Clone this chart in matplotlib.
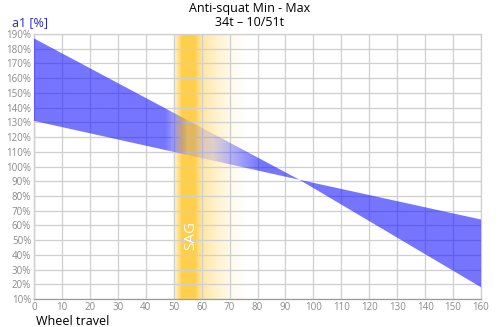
import numpy as np
import matplotlib
matplotlib.use("Agg")
import matplotlib.pyplot as plt
from matplotlib.colors import to_rgb

# Data
travel = [0, 95, 160]
anti_squat_max = [187, 91, 18]
anti_squat_min = [131, 91, 64]
sag_start, sag_end = 50, 75
x_ticks = list(range(0, 161, 10))
y_ticks = list(range(10, 191, 10))

plt.rcParams['font.family'] = ['Open Sans', 'DejaVu Sans']

fig = plt.figure(figsize=(5.0, 3.27), dpi=100)
ax = fig.add_axes([0.068, 0.0856, 0.894, 0.8104])
ax.set_xlim(0, 160)
ax.set_ylim(10, 190)

# SAG gradient background
xs = np.linspace(0, 160, 1601)
yel_alpha = np.interp(xs, [0, 49.5, 53, 57.5, 60, 65, 70, 76, 160],
                      [0, 0, 0.85, 0.85, 0.45, 0.25, 0.1, 0, 0])
img = np.zeros((2, len(xs), 4))
img[..., :3] = to_rgb('#ffc62a')
img[..., 3] = yel_alpha
ax.imshow(img, extent=[0, 160, 10, 190], aspect='auto', origin='lower',
          interpolation='bilinear', zorder=1)

# Blue band with alpha fade in SAG area
xi = np.linspace(0, 160, 321)
upper = np.interp(xi, travel, anti_squat_max)
lower = np.interp(xi, travel, anti_squat_min)
poly = ax.fill_between(xi, lower, upper, facecolor='none', edgecolor='none')
blue_alpha = np.interp(xs, [0, 47, 55, 64, 81, 160], [0.58, 0.58, 0.12, 0.14, 0.58, 0.58])
bimg = np.zeros((2, len(xs), 4))
bimg[..., :3] = to_rgb('#1010ff')
bimg[..., 3] = blue_alpha
im2 = ax.imshow(bimg, extent=[0, 160, 10, 190], aspect='auto', origin='lower',
                interpolation='bilinear', zorder=3)
im2.set_clip_path(poly.get_paths()[0], transform=ax.transData)

ax.text(56, 53, 'SAG', rotation=90, color='white', fontsize=11,
        ha='center', va='center', zorder=5)

ax.set_xticks(x_ticks)
ax.set_yticks(y_ticks)
ax.set_yticklabels([f'{v}%' for v in y_ticks])
ax.grid(True, color='#cfcfcf', linewidth=0.9, zorder=2)
ax.set_axisbelow(False)
for gl in ax.get_xgridlines() + ax.get_ygridlines():
    gl.set_zorder(2)
ax.tick_params(length=0, labelsize=7, labelcolor='#8a8a8a', pad=2)
for s in ax.spines.values():
    s.set_color('#cfcfcf')
    s.set_linewidth(0.9)
ax.spines['left'].set_color('#9a9a9a')
ax.spines['bottom'].set_color('#9a9a9a')

fig.text(0.5, 0.975, 'Anti-squat Min - Max', ha='center', va='center', fontsize=9)
fig.text(0.5, 0.93, '34t – 10/51t', ha='center', va='center', fontsize=9)
fig.text(0.024, 0.93, 'a1 [%]', ha='left', va='center', fontsize=9, color='#2a2ad0')
fig.text(0.072, 0.018, 'Wheel travel', ha='left', va='center', fontsize=9, color='black')

fig.savefig('out.png', dpi=100)
